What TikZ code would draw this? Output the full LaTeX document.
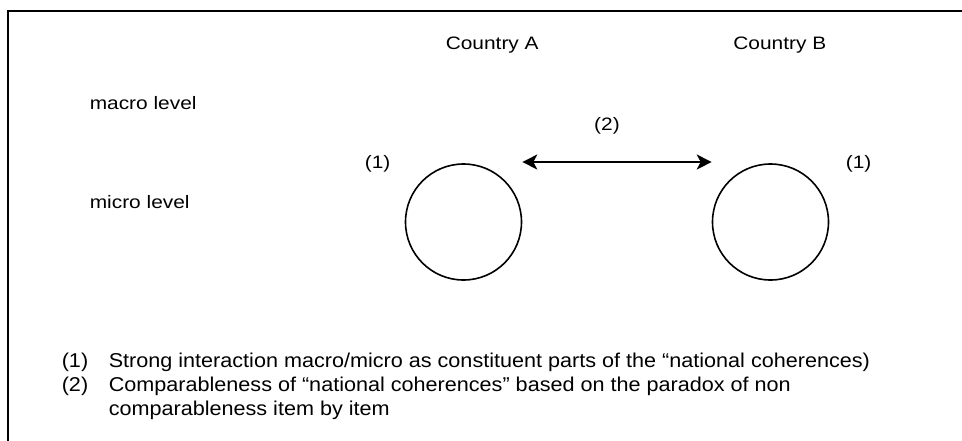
\documentclass[tikz,border=0pt]{standalone}
\usepackage{fontspec}
\setmainfont{Liberation Sans}
\newfontfamily\widefont[FakeStretch=1.16]{Liberation Sans}
\newfontfamily\notefont[FakeStretch=1.08]{Liberation Sans}
\usetikzlibrary{arrows.meta}
\begin{document}
\begin{tikzpicture}[
                x=1pt, y=-1pt,
                line width=1.6pt,
                every node/.style={inner sep=0pt},
                lbl/.style={anchor=base west, font=\widefont\fontsize{18}{22}\selectfont},
                note/.style={anchor=base west, font=\notefont\fontsize{20}{24}\selectfont},
                unit/.style={circle, draw, minimum size=116pt},
                link/.style={{Stealth[length=15pt,width=15pt,inset=4pt]}-{Stealth[length=15pt,width=15pt,inset=4pt]}}
            ]

            \useasboundingbox (0,0) rectangle (962,440);
            \draw (970,11) -- (8,11) -- (8,450);

            \node[lbl] (macro) at (89,109) {macro level};
            \node[lbl] (micro) at (89,208) {micro level};
            \node[lbl] (ctryA) at (445,49) {Country A};
            \node[lbl, anchor=base east] (ctryB) at (827,49) {Country B};

            \node[unit] (unitA) at (463.5,222) {};
            \node[unit] (unitB) at (770.5,222) {};

            \node[lbl] (intA) at (364,168) {(1)};
            \node[lbl] (intB) at (845,168) {(1)};
            \node[lbl, anchor=base] (cmp) at (607,130) {(2)};

            \coordinate (cmpL) at (unitA.east |- 0,162);
            \coordinate (cmpR) at (unitB.west |- 0,162);
            \draw[link] (cmpL) -- (cmpR);

            \node[note] (key1) at (61,367) {(1)};
            \node[note] (txt1) at (108,367) {Strong interaction macro/micro as constituent parts of the “national coherences)};
            \node[note] (key2) at (61,391) {(2)};
            \node[note] (txt2) at (108,391) {Comparableness of “national coherences” based on the paradox of non};
            \node[note] (txt3) at (108,415) {comparableness item by item};

        \end{tikzpicture}
\end{document}
